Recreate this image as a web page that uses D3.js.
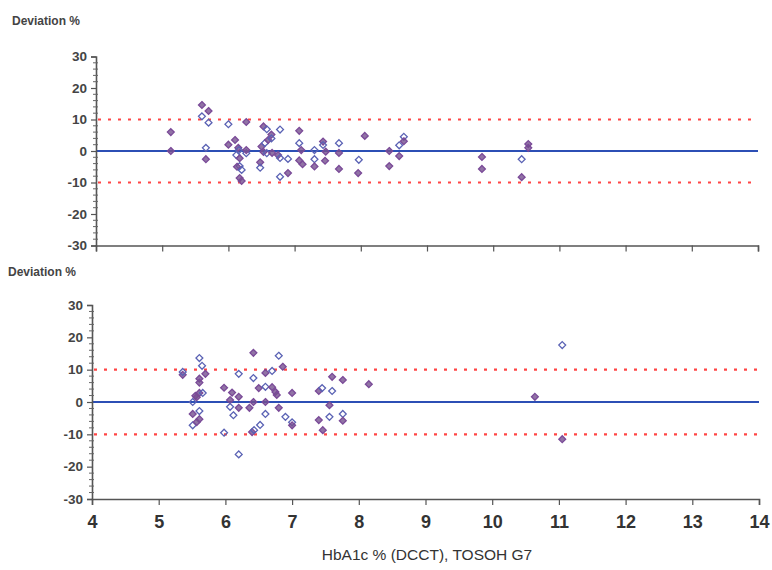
<!DOCTYPE html>
<html>
<head>
<meta charset="utf-8">
<script src="https://cdn.jsdelivr.net/npm/d3@7"></script>
<style>
  body { margin: 0; background: #fff; }
  svg text { font-family: "Liberation Sans", Arial, sans-serif; fill: #333; }
</style>
</head>
<body>
<svg width="772" height="570"></svg>
<script>
const xTicks = [4, 5, 6, 7, 8, 9, 10, 11, 12, 13, 14];
const yTicks = [-30, -20, -10, 0, 10, 20, 30];
const limits = [-10, 10];

// top panel, k: 1 = filled, 0 = open
const topX = [5.13, 5.13, 5.6, 5.6, 5.7, 5.7, 5.66, 5.66, 6.0, 6.0, 6.1, 6.27, 6.12, 6.15, 6.17, 6.13, 6.2, 6.17, 6.2, 6.27,
  6.17, 6.16, 6.27, 6.53, 6.58, 6.5, 6.55, 6.6, 6.65, 6.65, 6.53, 6.58, 6.66, 6.78, 6.75, 6.78, 6.48, 6.48, 6.9, 6.78,
  6.9, 7.07, 7.07, 7.1, 7.07, 7.12, 7.3, 7.3, 7.3, 7.43, 7.43, 7.47, 7.46, 7.67, 7.67, 7.67, 7.97, 7.96, 8.06, 8.43,
  8.43, 8.58, 8.58, 8.65, 8.65, 9.83, 9.83, 10.43, 10.43, 10.53, 10.53];
const topY = [6.0, 0, 14.6, 11, 12.7, 9, 1, -2.6, 8.5, 2, 3.5, 9.2, -1.3, 1, -4.8, -5, -6, -8.6, -9.5, -0.7,
  -2.3, 0.3, 0.3, 7.8, 6.9, 1.4, 2.5, 3.5, 5.2, 4, -0.3, -0.7, -0.6, 6.8, -1.3, -2.2, -3.6, -5.3, -2.5, -8.2,
  -7, 6.4, 2.5, 0.3, -3, -4.2, 0.3, -2.6, -4.9, 3, 1.9, -0.2, -3.1, 2.5, -0.6, -5.7, -2.8, -7, 4.8, 0,
  -4.8, 1.8, -1.6, 4.5, 3.1, -1.9, -5.7, -2.6, -8.3, 2.2, 1];
const topK = [1, 1, 1, 0, 1, 0, 0, 1, 0, 1, 1, 1, 0, 1, 0, 1, 0, 1, 1, 0,
  1, 0, 1, 1, 0, 1, 0, 1, 1, 0, 1, 0, 1, 0, 1, 0, 1, 0, 0, 0,
  1, 1, 0, 1, 1, 1, 0, 0, 1, 1, 0, 1, 1, 0, 1, 1, 0, 1, 1, 1,
  1, 0, 1, 0, 1, 1, 1, 0, 1, 1, 1];

// bottom panel
const botX = [5.36, 5.36, 5.51, 5.51, 5.51, 5.55, 5.61, 5.65, 5.61, 5.61, 5.7, 5.61, 5.66, 5.57, 5.61, 5.61, 5.57, 5.98, 5.98, 6.07,
  6.07, 6.12, 6.1, 6.2, 6.2, 6.2, 6.2, 6.36, 6.42, 6.42, 6.42, 6.4, 6.43, 6.52, 6.5, 6.6, 6.6, 6.6, 6.6, 6.7,
  6.7, 6.75, 6.77, 6.8, 6.8, 6.86, 6.9, 7.0, 7.0, 7.0, 7.4, 7.45, 7.6, 7.6, 7.76, 7.56, 7.4, 7.56, 7.46, 7.76,
  7.76, 8.15, 10.64, 11.05, 11.05];
const botY = [8.4, 9.3, 0, -3.7, -7.2, 1.9, 13.6, 11.2, 7.2, 6, 8.7, 2.8, 2.8, 1.5, -2.8, -5.3, -6.2, 4.4, -9.5, 0.6,
  -1.5, -4.1, 2.9, 1.6, 8.7, -1.8, -16.2, -1.8, 7.4, 15.2, 0, -9.3, -8.7, -7.1, 4.3, 9, 4.7, 0, -3.7, 9.6,
  4.6, 3.1, 2.2, 14.3, -1.8, 10.9, -4.6, 2.8, -6.3, -7.2, 3.4, 4.3, 3.4, 7.8, 6.8, -1, -5.6, -4.6, -8.7, -3.7,
  -5.8, 5.5, 1.6, 17.6, -11.5];
const botK = [1, 0, 0, 1, 0, 1, 0, 0, 1, 1, 1, 1, 0, 1, 0, 1, 1, 1, 0, 1,
  0, 0, 1, 1, 0, 1, 0, 1, 0, 1, 1, 1, 0, 0, 1, 1, 0, 1, 0, 0,
  1, 1, 1, 0, 1, 1, 0, 1, 0, 1, 1, 0, 0, 1, 1, 1, 1, 0, 1, 0,
  1, 1, 1, 0, 1];

const svg = d3.select("svg");
const plain = d => String(d);

const drawPanel = (cfg) => {
  const x = d3.scaleLinear().domain([4, 14]).range([cfg.left, cfg.right]);
  const y = d3.scaleLinear().domain([-30, 30]).range([cfg.bottom, cfg.top]);
  const g = svg.append("g");

  g.append("text")
    .attr("x", cfg.labelX).attr("y", cfg.labelY)
    .style("font-size", "12px").style("font-weight", "bold").style("fill", "#444")
    .text("Deviation %");

  // limit lines
  g.selectAll(".lim").data(limits).enter().append("line")
    .attr("x1", x(4) + 2).attr("x2", x(14))
    .attr("y1", d => y(d)).attr("y2", d => y(d))
    .attr("stroke", "#ff4545").attr("stroke-width", 2.2)
    .attr("stroke-dasharray", "3,7");

  g.append("line")
    .attr("x1", x(4)).attr("x2", x(14))
    .attr("y1", y(0)).attr("y2", y(0))
    .attr("stroke", "#2c4fb5").attr("stroke-width", 2);

  // axes
  const yAxis = d3.axisLeft(y).tickValues(yTicks).tickSize(5).tickPadding(4).tickFormat(plain);
  const ya = g.append("g").attr("transform", `translate(${x(4)},0)`).call(yAxis);
  ya.selectAll("text").style("font-size", "13.5px").style("font-weight", "bold").style("fill", "#444");

  g.selectAll(".minor").data(d3.range(-28, 30, 2).filter(v => v % 10 !== 0)).enter().append("line")
    .attr("x1", x(4) - 3).attr("x2", x(4) + 2)
    .attr("y1", d => y(d)).attr("y2", d => y(d))
    .attr("stroke", "#666").attr("stroke-width", 1);

  const xAxis = d3.axisBottom(x).tickValues(xTicks).tickSize(6).tickPadding(10)
    .tickFormat(cfg.showX ? plain : "");
  const xa = g.append("g").attr("transform", `translate(0,${y(-30)})`).call(xAxis);
  xa.selectAll("text").style("font-size", "18px").style("font-weight", "bold").style("fill", "#333");

  [ya, xa].forEach(a => {
    a.select(".domain").attr("stroke", "#555").attr("stroke-width", 1.6);
    a.selectAll(".tick line").attr("stroke", "#555").attr("stroke-width", 1.2);
  });

  const pts = cfg.xs.map((v, i) => ({ x: v, y: cfg.ys[i], k: cfg.ks[i] }));
  g.selectAll(".pt").data(pts).enter().append("path")
    .attr("d", d3.symbol(d3.symbolDiamond2, 30))
    .attr("transform", d => `translate(${x(d.x)},${y(d.y)})`)
    .attr("fill", d => d.k ? "#76508f" : "none")
    .attr("fill-opacity", 0.8)
    .attr("stroke", d => d.k ? "#7a4a98" : "#5a62b4")
    .attr("stroke-width", 1.3);
};

drawPanel({ left: 96, right: 758, top: 56.5, bottom: 245.5, labelX: 12, labelY: 25,
  xs: topX, ys: topY, ks: topK, showX: false });
drawPanel({ left: 92, right: 759, top: 305, bottom: 499, labelX: 8, labelY: 276,
  xs: botX, ys: botY, ks: botK, showX: true });

svg.append("text")
  .attr("x", 427).attr("y", 560)
  .attr("text-anchor", "middle")
  .style("font-size", "15.5px").style("fill", "#333")
  .text("HbA1c % (DCCT), TOSOH G7");
</script>
</body>
</html>
